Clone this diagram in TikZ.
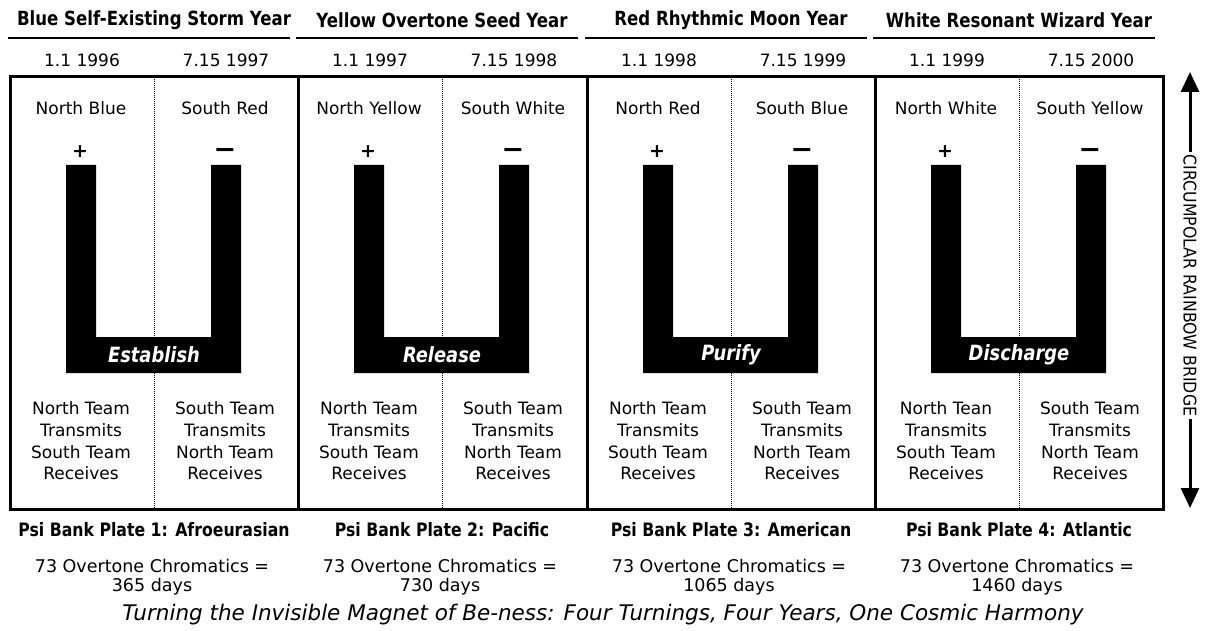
\documentclass[tikz,border=0pt]{standalone}
\usepackage{fontspec}
\setmainfont{DejaVu Sans}
\newfontfamily\hdrfont[FakeStretch=0.85]{DejaVu Sans}
\newfontfamily\brfont[FakeStretch=0.9]{DejaVu Sans}
\usetikzlibrary{arrows.meta}
\tikzset{
  txt/.style={font=\fontsize{17}{21.7}\selectfont, align=center, inner sep=0pt},
  daytxt/.style={font=\fontsize{17.5}{19.5}\selectfont, align=center, inner sep=0pt},
  hdr/.style={font=\hdrfont\bfseries\fontsize{19.5}{22}\selectfont, inner sep=0pt},
  plate/.style={font=\hdrfont\bfseries\fontsize{18.5}{22}\selectfont, inner sep=0pt},
  verbtxt/.style={font=\hdrfont\bfseries\itshape\fontsize{21}{24}\selectfont, text=white, inner sep=0pt},
  signtxt/.style={font=\bfseries\fontsize{19}{20}\selectfont, inner sep=0pt},
  minustxt/.style={font=\bfseries\fontsize{27}{28}\selectfont, inner sep=0pt},
  captxt/.style={font=\itshape\fontsize{21.5}{24}\selectfont, inner sep=0pt},
  bridgetxt/.style={font=\brfont\fontsize{17.5}{20}\selectfont, inner sep=3pt, rotate=-90},
  frame/.style={line width=3pt},
  centerline/.style={line width=1pt, dash pattern=on 1pt off 1pt},
  uline/.style={line width=2pt},
  bridgearrow/.style={line width=3pt, -{Triangle[width=18pt,length=20pt]}}
}
\begin{document}
\begin{tikzpicture}[x=1pt,y=-1pt]
\path[use as bounding box, fill=white] (0,0) rectangle (1206,631);

\foreach \i/\L/\hd/\da/\db/\na/\nb/\vb/\tn/\pl/\dy in {
  1/10/{Blue Self-Existing Storm Year}/{1.1 1996}/{7.15 1997}/{North Blue}/{South Red}/Establish/Team/{1: Afroeurasian}/365,
  2/298/{Yellow Overtone Seed Year}/{1.1 1997}/{7.15 1998}/{North Yellow}/{South White}/Release/Team/{2: Pacific}/730,
  3/587/{Red Rhythmic Moon Year}/{1.1 1998}/{7.15 1999}/{North Red}/{South Blue}/Purify/Team/{3: American}/1065,
  4/875/{White Resonant Wizard Year}/{1.1 1999}/{7.15 2000}/{North White}/{South Yellow}/Discharge/Tean/{4: Atlantic}/1460}
{
  % header
  \node[hdr] (hd\i) at ({\L+144},20) {\hd};
  \draw[uline] ({\L-2},38) -- ({\L+280},38);
  \node[txt] (da\i) at ({\L+72},60) {\da};
  \node[txt] (db\i) at ({\L+216},60) {\db};
  % centre dotted line
  \draw[centerline] ({\L+144},79) -- ({\L+144},508);
  % poles
  \node[txt] (na\i) at ({\L+71},108) {\na};
  \node[txt] (nb\i) at ({\L+215},108) {\nb};
  \node[signtxt] (plus\i) at ({\L+70},152) {+};
  \node[minustxt] (minus\i) at ({\L+215},153) {−};
  % U magnet
  \fill[black] ({\L+56},165) -- ({\L+86},165) -- ({\L+86},337) -- ({\L+201},337)
     -- ({\L+201},165) -- ({\L+231},165) -- ({\L+231},373) -- ({\L+56},373) -- cycle;
  \node[verbtxt] (vb\i) at ({\L+144},355) {\vb};
  % teams
  \node[txt] (ta\i) at ({\L+71},441) {North \tn\\Transmits\\South Team\\Receives};
  \node[txt] (tb\i) at ({\L+215},441) {South Team\\Transmits\\North Team\\Receives};
  % bottom
  \node[plate] (pl\i) at ({\L+144},530) {Psi Bank Plate \pl};
  \node[daytxt] (dy\i) at ({\L+142},577) {73 Overtone Chromatics =\\\dy\ days};
}

% frame
\draw[frame] (10,77) rectangle (1163,509);
\foreach \x in {298,587,875} \draw[frame] (\x,77) -- (\x,509);

% bridge
\node[bridgetxt] (bridge) at (1190,285.5) {CIRCUMPOLAR RAINBOW BRIDGE};
\coordinate (topTip) at (1190,72);
\coordinate (botTip) at (1190,508);
\draw[bridgearrow] (bridge.west) -- (topTip);
\draw[bridgearrow] (bridge.east) -- (botTip);

% caption
\node[captxt] (caption) at (603,615) {Turning the Invisible Magnet of Be-ness: Four Turnings, Four Years, One Cosmic Harmony};
\end{tikzpicture}
\end{document}
